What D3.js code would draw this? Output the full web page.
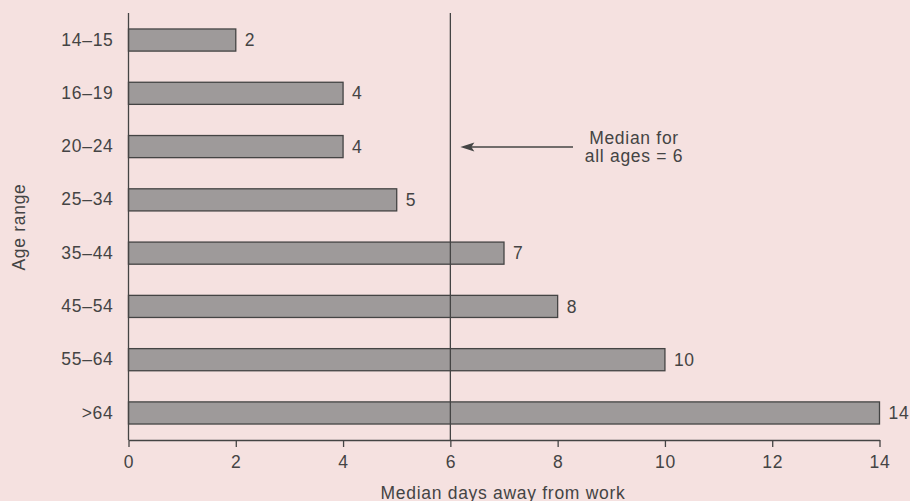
<!DOCTYPE html>
<html><head><meta charset="utf-8">
<script src="https://cdn.jsdelivr.net/npm/d3@7"></script>
<style>
html,body{margin:0;padding:0;background:#f5e1e0;}
text{font-family:"Liberation Sans",Arial,sans-serif;fill:#444;letter-spacing:0.7px;}
</style></head>
<body><svg id="c" width="910" height="501"></svg>
<script>
const categories = ["14–15","16–19","20–24","25–34","35–44","45–54","55–64",">64"];
const values = [2,4,4,5,7,8,10,14];
const xTicks = [0,2,4,6,8,10,12,14];
const medianAll = 6;

const FS = 17.5;
const svg = d3.select("#c");
svg.append("rect").attr("width",910).attr("height",501).attr("fill","#f5e1e0");
const x = d3.scaleLinear().domain([0,14]).range([128.5,879.5]);
const y = d3.scaleBand().domain(categories).range([13,440]).paddingInner(0.585).paddingOuter(0.3);
const ink = "#444";

// bars
svg.selectAll("rect.bar").data(values).enter().append("rect")
  .attr("class","bar")
  .attr("x", x(0))
  .attr("y",(d,i)=>y(categories[i]))
  .attr("width",d=>x(d)-x(0))
  .attr("height",y.bandwidth())
  .attr("fill","#9e9a9a").attr("stroke",ink).attr("stroke-width",1.3);

// value labels
svg.selectAll("text.val").data(values).enter().append("text")
  .attr("x",d=>x(d)+9)
  .attr("y",(d,i)=>y(categories[i])+y.bandwidth()/2)
  .attr("dy","0.35em").attr("font-size",FS).text(d=>d);

// median line
svg.append("line").attr("x1",x(medianAll)).attr("x2",x(medianAll))
  .attr("y1",13).attr("y2",440).attr("stroke",ink).attr("stroke-width",1.3);

// x axis
const xa = svg.append("g").attr("transform","translate(0,440)")
  .call(d3.axisBottom(x).tickValues(xTicks).tickSize(7).tickSizeOuter(0).tickPadding(9));
xa.select(".domain").attr("stroke",ink).attr("stroke-width",1.3);
xa.selectAll(".tick line").attr("stroke",ink).attr("stroke-width",1.3);
xa.selectAll(".tick text").attr("font-size",FS).attr("fill",ink)
  .style("font-family","'Liberation Sans',Arial,sans-serif");

// y axis
const ya = svg.append("g").attr("transform",`translate(${x(0)},0)`)
  .call(d3.axisLeft(y).tickSize(0).tickPadding(15));
ya.select(".domain").attr("d","M0,13V440").attr("stroke",ink).attr("stroke-width",1.3);
ya.selectAll(".tick text").attr("font-size",FS).attr("fill",ink)
  .style("font-family","'Liberation Sans',Arial,sans-serif");

// axis titles
svg.append("text").attr("x",503).attr("y",499).attr("text-anchor","middle")
  .attr("font-size",FS).text("Median days away from work");
svg.append("text").attr("transform","translate(25,227) rotate(-90)")
  .attr("text-anchor","middle").attr("font-size",FS).text("Age range");

// annotation
const ay = 147, ax0 = 573, ax1 = x(medianAll) + 10;
svg.append("line").attr("x1",ax0).attr("x2",ax1+8).attr("y1",ay).attr("y2",ay)
  .attr("stroke",ink).attr("stroke-width",1.3);
svg.append("path")
  .attr("d",`M${ax1},${ay}L${ax1+14},${ay-4.5}L${ax1+11},${ay}L${ax1+14},${ay+4.5}Z`)
  .attr("fill",ink);
svg.append("text").attr("x",634).attr("y",144).attr("text-anchor","middle").attr("font-size",FS).text("Median for");
svg.append("text").attr("x",634).attr("y",162).attr("text-anchor","middle").attr("font-size",FS).text("all ages = 6");
</script></body></html>
